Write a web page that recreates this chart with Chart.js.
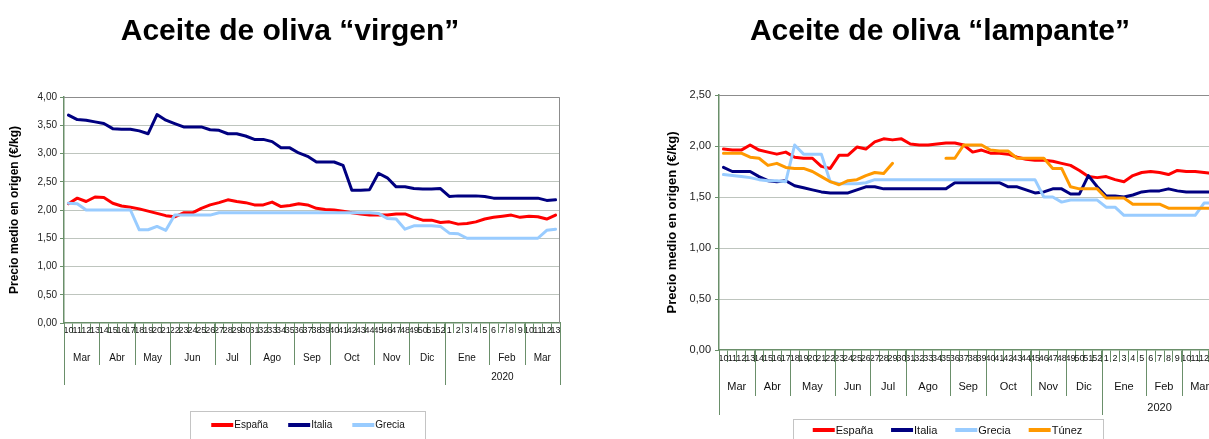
<!DOCTYPE html>
<html><head><meta charset="utf-8">
<script src="https://cdn.jsdelivr.net/npm/chart.js@4.4.1/dist/chart.umd.min.js"></script>
<style>
html,body{margin:0;padding:0;background:#fff;overflow:hidden;width:1209px;height:439px;}
#wrap{position:relative;width:1209px;height:439px;overflow:hidden;}
canvas{position:absolute;top:0;}
#c1{left:0;} #c2{left:600px;}
.title{position:absolute;top:14.6px;font:bold 30px 'Liberation Sans',Arial,sans-serif;line-height:30px;white-space:nowrap;transform:translateX(-50%);color:#000;}
</style></head><body>
<div id="wrap">
<canvas id="c1" width="600" height="439"></canvas>
<canvas id="c2" width="640" height="439"></canvas>
<div class="title" style="left:290px">Aceite de oliva “virgen”</div>
<div class="title" style="left:940px">Aceite de oliva “lampante”</div>
</div>
<script>
// ---------- DATA ----------
const weekLabels = ['10','11','12','13','14','15','16','17','18','19','20','21','22','23','24','25','26','27','28','29','30','31','32','33','34','35','36','37','38','39','40','41','42','43','44','45','46','47','48','49','50','51','52','1','2','3','4','5','6','7','8','9','10','11','12','13'];

const monthNames = ['Mar','Abr','May','Jun','Jul','Ago','Sep','Oct','Nov','Dic','Ene','Feb','Mar'];
const monthSpansVirgen = [4,4,4,5,4,5,4,5,4,4,5,4,4];
const monthSpansLampante = [4,4,5,4,4,5,4,5,4,4,5,4,4];
const yearNames = ['', '2020'];
const yearSpans = [43, 13];

const seriesNames = ['España', 'Italia', 'Grecia', 'Túnez'];

// Aceite de oliva "virgen"
const espanaVirgen = [2.11,2.21,2.15,2.23,2.22,2.12,2.07,2.05,2.02,1.98,1.94,1.90,1.88,1.95,1.95,2.03,2.09,2.13,2.18,2.15,2.13,2.09,2.09,2.14,2.06,2.08,2.11,2.09,2.03,2.01,2.00,1.98,1.95,1.93,1.91,1.91,1.91,1.93,1.93,1.87,1.82,1.82,1.78,1.79,1.75,1.76,1.79,1.84,1.87,1.89,1.91,1.87,1.89,1.88,1.84,1.91];
const italiaVirgen = [3.68,3.60,3.59,3.56,3.53,3.44,3.43,3.43,3.40,3.35,3.69,3.59,3.53,3.47,3.47,3.47,3.42,3.41,3.35,3.35,3.31,3.25,3.25,3.21,3.10,3.10,3.01,2.95,2.85,2.85,2.85,2.79,2.35,2.35,2.36,2.65,2.57,2.41,2.41,2.38,2.37,2.37,2.38,2.24,2.25,2.25,2.25,2.24,2.21,2.21,2.21,2.21,2.21,2.21,2.17,2.18];
const greciaVirgen = [2.12,2.11,2.00,2.00,2.00,2.00,2.00,2.00,1.65,1.65,1.71,1.64,1.91,1.91,1.91,1.91,1.91,1.95,1.95,1.95,1.95,1.95,1.95,1.95,1.95,1.95,1.95,1.95,1.95,1.95,1.95,1.95,1.95,1.95,1.95,1.94,1.85,1.84,1.66,1.72,1.72,1.72,1.71,1.59,1.58,1.50,1.50,1.50,1.50,1.50,1.50,1.50,1.50,1.50,1.64,1.66];

// Aceite de oliva "lampante"
const espanaLampante = [1.97,1.96,1.96,2.01,1.96,1.94,1.92,1.94,1.89,1.88,1.88,1.80,1.78,1.91,1.91,1.99,1.97,2.04,2.07,2.06,2.07,2.02,2.01,2.01,2.02,2.03,2.03,2.01,1.94,1.96,1.93,1.93,1.92,1.89,1.87,1.86,1.86,1.85,1.83,1.81,1.76,1.70,1.69,1.70,1.67,1.65,1.71,1.74,1.75,1.74,1.72,1.76,1.75,1.75,1.74,1.73];
const italiaLampante = [1.79,1.75,1.75,1.75,1.70,1.66,1.65,1.66,1.61,1.59,1.57,1.55,1.54,1.54,1.54,1.57,1.60,1.60,1.58,1.58,1.58,1.58,1.58,1.58,1.58,1.58,1.64,1.64,1.64,1.64,1.64,1.64,1.60,1.60,1.57,1.54,1.55,1.58,1.58,1.53,1.53,1.71,1.60,1.51,1.51,1.50,1.52,1.55,1.56,1.56,1.58,1.56,1.55,1.55,1.55,1.55];
const greciaLampante = [1.72,1.71,1.70,1.69,1.67,1.66,1.66,1.65,2.01,1.92,1.92,1.92,1.65,1.63,1.63,1.63,1.64,1.67,1.67,1.67,1.67,1.67,1.67,1.67,1.67,1.67,1.67,1.67,1.67,1.67,1.67,1.67,1.67,1.67,1.67,1.67,1.50,1.50,1.45,1.47,1.47,1.47,1.47,1.40,1.40,1.32,1.32,1.32,1.32,1.32,1.32,1.32,1.32,1.32,1.44,1.44];
const tunezLampante = [1.93,1.93,1.93,1.89,1.88,1.81,1.83,1.79,1.78,1.78,1.75,1.70,1.65,1.62,1.66,1.67,1.71,1.74,1.73,1.83,null,null,null,null,null,1.88,1.88,2.01,2.01,2.01,1.96,1.95,1.95,1.88,1.88,1.88,1.88,1.78,1.78,1.60,1.58,1.58,1.58,1.49,1.49,1.49,1.43,1.43,1.43,1.43,1.39,1.39,1.39,1.39,1.39,1.39];

// ---------- STYLE ----------
const COLORS = {'España':'#ff0000','Italia':'#000080','Grecia':'#99ccff','Túnez':'#ff9900'};
const NARROW = "'Liberation Sans Narrow','Arial Narrow','Liberation Sans',Arial,sans-serif";
const GREEN = '#6a8f6a';

const groupPlugin = {
  id: 'groups',
  afterDraw(chart) {
    const o = chart.options.plugins.groups;
    const {ctx, chartArea: ca} = chart;
    const x = chart.scales.x;
    const edge = i => Math.round(x.getPixelForValue(i - 0.5)) + 0.5;
    const bottom = Math.round(ca.bottom);
    ctx.save();
    // top / right frame
    ctx.strokeStyle = '#8c8c8c'; ctx.lineWidth = 1;
    ctx.beginPath();
    ctx.moveTo(ca.left, Math.round(ca.top) + 0.5);
    ctx.lineTo(Math.round(ca.right) - 0.5, Math.round(ca.top) + 0.5);
    ctx.lineTo(Math.round(ca.right) - 0.5, ca.bottom);
    ctx.stroke();
    // month row
    ctx.strokeStyle = GREEN; ctx.lineWidth = 1;
    ctx.fillStyle = '#111';
    ctx.font = o.monthFont + 'px ' + NARROW;
    ctx.textAlign = 'center'; ctx.textBaseline = 'middle';
    let s = 0;
    o.months.forEach((m, k) => {
      const e = s + o.monthSpans[k];
      ctx.beginPath();
      ctx.moveTo(edge(s), bottom); ctx.lineTo(edge(s), bottom + o.monthSepLen);
      ctx.moveTo(edge(e), bottom); ctx.lineTo(edge(e), bottom + o.monthSepLen);
      ctx.stroke();
      ctx.fillText(m, (x.getPixelForValue(s - 0.5) + x.getPixelForValue(e - 0.5)) / 2, bottom + o.monthY);
      s = e;
    });
    // year row
    s = 0;
    o.years.forEach((yv, k) => {
      const e = s + o.yearSpans[k];
      ctx.beginPath();
      if (k === 0) { ctx.moveTo(edge(s), bottom); ctx.lineTo(edge(s), bottom + o.yearSepLen); }
      ctx.moveTo(edge(e), bottom); ctx.lineTo(edge(e), bottom + o.yearSepLen);
      ctx.stroke();
      if (yv) ctx.fillText(yv, (x.getPixelForValue(s - 0.5) + x.getPixelForValue(e - 0.5)) / 2, bottom + o.yearY);
      s = e;
    });
    // legend
    ctx.font = o.legendFont + 'px ' + NARROW;
    ctx.textAlign = 'left';
    const lineLen = 22, gapLT = 1;
    const items = chart.data.datasets.map(d => ({label: d.label, color: d.borderColor, w: ctx.measureText(d.label).width}));
    const total = items.reduce((a, it) => a + lineLen + gapLT + it.w, 0) + o.legendGap * (items.length - 1);
    let cx = o.legendCx - total / 2;
    ctx.strokeStyle = '#c4c4c4'; ctx.lineWidth = 1;
    ctx.strokeRect(Math.round(cx - o.legendPad) + 0.5, o.legendTop + 0.5, Math.round(total + 2 * o.legendPad), 80);
    items.forEach(it => {
      ctx.strokeStyle = it.color; ctx.lineWidth = 4; ctx.lineCap = 'butt';
      ctx.beginPath(); ctx.moveTo(cx, o.legendY); ctx.lineTo(cx + lineLen, o.legendY); ctx.stroke();
      ctx.fillStyle = '#111'; ctx.textBaseline = 'middle';
      ctx.fillText(it.label, cx + lineLen + gapLT, o.legendY + 0.5);
      cx += lineLen + gapLT + it.w + o.legendGap;
    });
    ctx.restore();
  }
};

function makeChart(id, series, cfg) {
  const n = series.length;
  return new Chart(document.getElementById(id), {
    type: 'line',
    data: {
      labels: weekLabels,
      datasets: series.map((sr, k) => ({
        label: sr.name, data: sr.data,
        borderColor: COLORS[sr.name], backgroundColor: COLORS[sr.name],
        borderWidth: 3, pointRadius: 0, tension: 0, fill: false, spanGaps: false,
        borderJoinStyle: 'round', borderCapStyle: 'round',
        order: n - k
      }))
    },
    options: {
      responsive: false, animation: false,
      layout: {padding: {left: cfg.padL, right: cfg.padR, top: cfg.top, bottom: 0}},
      plugins: {
        legend: {display: false}, tooltip: {enabled: false},
        groups: {
          months: monthNames, monthSpans: cfg.monthSpans, years: yearNames, yearSpans: yearSpans,
          monthFont: cfg.monthFont, monthY: cfg.monthY, monthSepLen: cfg.monthSepLen,
          yearY: cfg.yearY, yearSepLen: cfg.yearSepLen,
          legendCx: cfg.legendCx, legendTop: cfg.legendTop, legendY: cfg.legendY,
          legendFont: cfg.legendFont, legendGap: cfg.legendGap, legendPad: cfg.legendPad
        }
      },
      scales: {
        x: {
          type: 'category', offset: true,
          grid: {drawOnChartArea: false, offset: true, color: GREEN, tickLength: cfg.tickLen, lineWidth: 1},
          border: {color: GREEN, width: 1.5},
          ticks: {autoSkip: false, maxRotation: 0, minRotation: 0, padding: cfg.tickPad, color: '#111',
                  font: {family: NARROW, size: cfg.tickFont}},
          afterFit: s => { s.height = cfg.xH; }
        },
        y: {
          min: 0, max: cfg.ymax,
          ticks: {stepSize: 0.5, padding: cfg.yPad, color: '#222', font: {family: NARROW, size: cfg.yFont},
                  callback: v => v.toFixed(2).replace('.', ',')},
          grid: {color: c => (c.tick && c.tick.value === 0) ? 'rgba(0,0,0,0)' : '#7d8a7d', tickColor: GREEN, tickLength: 4, lineWidth: 1},
          border: {color: GREEN, width: 1.5, dash: [1, 1]},
          title: {display: true, text: 'Precio medio en origen (€/kg)', padding: 0, color: '#000',
                  font: {family: "'Liberation Sans',Arial,sans-serif", size: cfg.yTitleSize, weight: 'bold'}},
          afterFit: s => { s.width = cfg.yW; }
        }
      }
    },
    plugins: [groupPlugin]
  });
}

makeChart('c1', [
  {name: seriesNames[0], data: espanaVirgen},
  {name: seriesNames[1], data: italiaVirgen},
  {name: seriesNames[2], data: greciaVirgen}
], {
  padL: 7.8, yW: 56.2, padR: 40, top: 97, xH: 116, ymax: 4,
  tickLen: 10, tickPad: -8, tickFont: 9, yFont: 10, yPad: 3, yTitleSize: 12,
  monthSpans: monthSpansVirgen, monthFont: 10, monthY: 35, monthSepLen: 42, yearY: 54, yearSepLen: 62,
  legendCx: 308, legendTop: 411, legendY: 425, legendFont: 10, legendGap: 20, legendPad: 21
});

makeChart('c2', [
  {name: seriesNames[0], data: espanaLampante},
  {name: seriesNames[1], data: italiaLampante},
  {name: seriesNames[2], data: greciaLampante},
  {name: seriesNames[3], data: tunezLampante}
], {
  padL: 64.2, yW: 54.8, padR: 22.6, top: 95, xH: 89, ymax: 2.5,
  tickLen: 12, tickPad: -9, tickFont: 9, yFont: 11, yPad: 4, yTitleSize: 13,
  monthSpans: monthSpansLampante, monthFont: 11, monthY: 37, monthSepLen: 46, yearY: 58, yearSepLen: 65,
  legendCx: 347.5, legendTop: 419, legendY: 430, legendFont: 11, legendGap: 18, legendPad: 20
});
</script>
</body></html>
